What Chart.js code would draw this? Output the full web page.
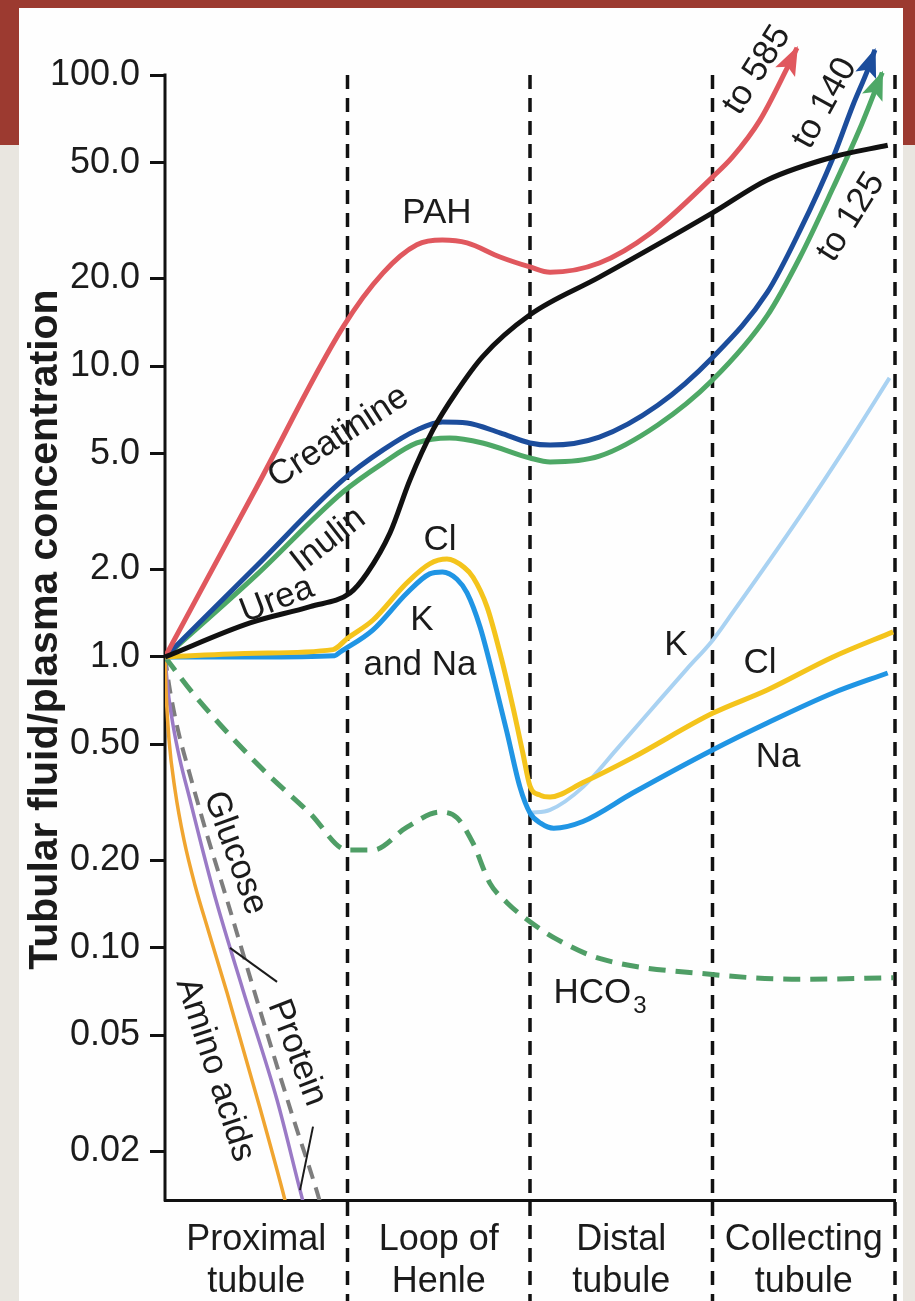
<!DOCTYPE html>
<html><head><meta charset="utf-8">
<script src="https://cdn.jsdelivr.net/npm/chart.js@4.4.1/dist/chart.umd.min.js"></script>
<style>
html,body{margin:0;padding:0;}
body{width:915px;height:1301px;position:relative;overflow:hidden;background:#e9e6e0;}
#red{position:absolute;left:0;top:0;width:915px;height:145px;background:#9c3a30;}
#panel{position:absolute;left:19px;top:8px;width:884px;height:1293px;background:#fefefe;}
#wrap{position:absolute;left:0;top:0;width:915px;height:1301px;}
</style></head><body>
<div id="red"></div><div id="panel"></div>
<div id="wrap"><canvas id="c" width="915" height="1301"></canvas></div>
<script>
// ---- categories / ticks ----
const segments = [["Proximal","tubule"],["Loop of","Henle"],["Distal","tubule"],["Collecting","tubule"]];
const segmentCenters = [0.5,1.5,2.5,3.5];
const segmentBounds = [1,2,3,4];
const yTickValues = [0.02,0.05,0.1,0.2,0.5,1,2,5,10,20,50,100];
const yTickLabels = ["0.02","0.05","0.10","0.20","0.50","1.0","2.0","5.0","10.0","20.0","50.0","100.0"];

// ---- series (x = position along nephron, 1 unit per segment; y = TF/P) ----
const pahX = [0,0.5,0.975,1.195,1.38,1.52,1.655,1.836,2.0,2.11,2.38,2.66,3.0,3.11,3.26,3.41,3.463];
const pahY = [1,3.81,13.6,20.9,26.1,27.1,26.5,23.7,21.9,21.0,22.6,28.6,44.6,52.3,70,106,124];

const creatX = [0,0.5,0.975,1.195,1.38,1.52,1.655,1.836,2.0,2.11,2.38,2.70,3.0,3.30,3.48,3.66,3.77,3.85,3.89];
const creatY = [1,2.05,4.06,5.15,6.03,6.42,6.37,5.89,5.44,5.35,5.70,7.33,10.7,17.9,29.3,51.9,78.9,104,122];

const inulinX = [0,0.5,0.975,1.195,1.38,1.56,1.74,2.0,2.11,2.38,2.70,3.0,3.30,3.48,3.66,3.81,3.93];
const inulinY = [1,1.91,3.69,4.64,5.44,5.66,5.44,4.83,4.68,4.9,6.27,8.95,14.9,23.7,40.9,66,102];

const ureaX = [0,0.466,0.795,1.014,1.107,1.233,1.342,1.468,1.60,1.742,2.0,2.38,3.0,3.30,3.66,3.96];
const ureaY = [1,1.31,1.49,1.66,1.94,2.67,4.06,6.03,8.2,10.8,15,20.2,33.6,43.6,52.3,57.4];

const clX = [0,0.5,0.92,1.0,1.14,1.326,1.45,1.545,1.64,1.688,1.764,1.836,1.907,1.96,2.0,2.055,2.11,2.29,2.56,3.0,3.30,3.66,3.99];
const clY = [1,1.03,1.06,1.16,1.34,1.80,2.09,2.17,2.03,1.88,1.49,1.03,0.67,0.47,0.36,0.335,0.33,0.37,0.45,0.64,0.77,1.0,1.22];

const naX = [0,0.5,0.93,0.96,1.14,1.326,1.45,1.52,1.60,1.655,1.726,1.80,1.874,1.945,2.0,2.06,2.13,2.29,2.56,3.0,3.30,3.66,3.96];
const naY = [1,1,1.01,1.04,1.24,1.66,1.93,1.96,1.85,1.66,1.27,0.85,0.55,0.357,0.291,0.268,0.258,0.272,0.34,0.479,0.593,0.752,0.881];

const kX = [2.0,2.11,2.29,2.477,2.658,2.86,3.0,3.11,3.48,3.75,3.97];
const kY = [0.291,0.298,0.357,0.483,0.652,0.91,1.14,1.42,3.05,5.5,9.1];

const hco3X = [0,0.153,0.52,0.795,1.0,1.14,1.326,1.507,1.60,1.688,1.78,1.874,2.0,2.148,2.38,3.0,3.48,3.99];
const hco3Y = [1,0.75,0.42,0.29,0.217,0.217,0.26,0.293,0.28,0.229,0.167,0.143,0.123,0.107,0.092,0.081,0.078,0.079];

const aminoX = [0,0.0055,0.022,0.055,0.104,0.164,0.236,0.34,0.52,0.647,0.685];
const aminoY = [1,0.770,0.519,0.349,0.235,0.1646,0.1154,0.0701,0.0282,0.0144,0.0116];

const glucoseX = [0,0.016,0.044,0.082,0.137,0.203,0.279,0.427,0.614,0.74,0.778];
const glucoseY = [1,0.770,0.584,0.443,0.323,0.221,0.146,0.0717,0.0300,0.0147,0.0119];

const proteinX = [0,0.027,0.071,0.137,0.230,0.340,0.52,0.70,0.833,0.877];
const proteinY = [1,0.770,0.561,0.393,0.245,0.146,0.0612,0.0263,0.0145,0.0116];

// ---- annotations (data coordinates) ----
const labels = [
  {t:"PAH", x:1.49, y:33.6, r:0},
  {t:"Creatinine", x:0.95, y:5.7, r:-33},
  {t:"Inulin", x:0.895, y:2.52, r:-38},
  {t:"Urea", x:0.614, y:1.57, r:-21},
  {t:"Cl", x:1.507, y:2.52, r:0},
  {t:"K", x:1.408, y:1.34, r:0},
  {t:"and Na", x:1.397, y:0.939, r:0},
  {t:"K", x:2.80, y:1.10, r:0},
  {t:"Cl", x:3.26, y:0.954, r:0},
  {t:"Na", x:3.36, y:0.453, r:0},
  {t:"Glucose", x:0.384, y:0.212, r:70},
  {t:"Amino acids", x:0.274, y:0.0381, r:72},
  {t:"Protein", x:0.723, y:0.0436, r:69},
  {t:"to 585", x:3.244, y:104, r:-58},
  {t:"to 140", x:3.616, y:80, r:-61},
  {t:"to 125", x:3.759, y:32.5, r:-58}
];
const hco3Label = {x:2.384, y:0.070};
const leaders = [[0.356,0.1,0.614,0.0764],[0.811,0.0243,0.74,0.0147]];

const zip = (xs, ys) => xs.map((v,i)=>({x:v, y:ys[i]}));
const FONT = '"Liberation Sans", Arial, Helvetica, sans-serif';
const INK = '#1b1b1b';

function ds(label, xs, ys, color, width, extra) {
  return Object.assign({label, data: zip(xs,ys), borderColor: color, backgroundColor: color,
    borderWidth: width, pointRadius: 0, fill: false, cubicInterpolationMode: 'monotone',
    borderCapStyle: 'butt', borderJoinStyle: 'round'}, extra || {});
}

const datasets = [
  ds('Urea', ureaX, ureaY, '#111111', 5),
  ds('PAH', pahX, pahY, '#e0585e', 5, {arrowHead: true}),
  ds('Creatinine', creatX, creatY, '#1c4d9c', 5, {arrowHead: true}),
  ds('Inulin', inulinX, inulinY, '#4ea866', 5, {arrowHead: true}),
  ds('Cl', clX, clY, '#f4c41c', 5),
  ds('Na', naX, naY, '#2095e4', 5),
  ds('K', kX, kY, '#a9d2f2', 4),
  ds('HCO3', hco3X, hco3Y, '#4f9e66', 5, {borderDash: [17,10]}),
  ds('Amino acids', aminoX, aminoY, '#f0a530', 3.5),
  ds('Glucose', glucoseX, glucoseY, '#9a7ac6', 3.5),
  ds('Protein', proteinX, proteinY, '#7d7d7d', 4, {borderDash: [14,9]})
];

const decor = {
  id: 'decor',
  beforeDatasetsDraw(chart) {
    const {ctx, scales:{x, y}, chartArea} = chart;
    const top = y.getPixelForValue(100);
    ctx.save();
    ctx.strokeStyle = '#111'; ctx.lineWidth = 3.5; ctx.setLineDash([14,9]);
    for (const b of segmentBounds) {
      const px = x.getPixelForValue(b);
      ctx.beginPath(); ctx.moveTo(px, top); ctx.lineTo(px, chart.height); ctx.stroke();
    }
    ctx.setLineDash([]);
    ctx.lineWidth = 3; ctx.lineCap = 'square';
    const x0 = x.getPixelForValue(0);
    ctx.beginPath(); ctx.moveTo(x0, top); ctx.lineTo(x0, chartArea.bottom); ctx.stroke();
    ctx.restore();
  },
  afterDatasetsDraw(chart) {
    const {ctx, scales:{x, y}} = chart;
    ctx.save();
    // arrow heads
    chart.data.datasets.forEach((d, i) => {
      if (!d.arrowHead) return;
      const pts = chart.getDatasetMeta(i).data;
      const P = pts[pts.length-1], Q = pts[pts.length-2];
      let dx = P.x - Q.x, dy = P.y - Q.y; const L = Math.hypot(dx,dy); dx/=L; dy/=L;
      const len = 27, hw = 11, nx = -dy, ny = dx;
      const bx = P.x - dx*len, by = P.y - dy*len;
      ctx.fillStyle = d.borderColor;
      ctx.beginPath();
      ctx.moveTo(P.x + dx*2, P.y + dy*2);
      ctx.lineTo(bx + nx*hw, by + ny*hw);
      ctx.lineTo(bx + dx*6, by + dy*6);
      ctx.lineTo(bx - nx*hw, by - ny*hw);
      ctx.closePath(); ctx.fill();
    });
    // labels
    ctx.fillStyle = INK; ctx.textAlign = 'center'; ctx.textBaseline = 'middle';
    ctx.font = '35px ' + FONT;
    for (const l of labels) {
      ctx.save();
      ctx.translate(x.getPixelForValue(l.x), y.getPixelForValue(l.y));
      ctx.rotate(l.r * Math.PI / 180);
      ctx.fillText(l.t, 0, 0);
      ctx.restore();
    }
    // HCO3 with subscript
    {
      const px = x.getPixelForValue(hco3Label.x), py = y.getPixelForValue(hco3Label.y);
      ctx.font = '35px ' + FONT;
      const w1 = ctx.measureText('HCO').width;
      ctx.font = '24px ' + FONT;
      const w2 = ctx.measureText('3').width;
      const sx = px - (w1 + w2 + 2) / 2;
      ctx.textAlign = 'left';
      ctx.font = '35px ' + FONT; ctx.fillText('HCO', sx, py);
      ctx.font = '24px ' + FONT; ctx.fillText('3', sx + w1 + 2, py + 13);
    }
    // leader lines
    ctx.strokeStyle = INK; ctx.lineWidth = 2;
    for (const [a,b,c,d] of leaders) {
      ctx.beginPath();
      ctx.moveTo(x.getPixelForValue(a), y.getPixelForValue(b));
      ctx.lineTo(x.getPixelForValue(c), y.getPixelForValue(d));
      ctx.stroke();
    }
    // y axis title
    ctx.font = 'bold 41px ' + FONT; ctx.textAlign = 'center'; ctx.textBaseline = 'middle';
    ctx.translate(46, (y.getPixelForValue(100) + chart.chartArea.bottom) / 2 - 8);
    ctx.rotate(-Math.PI/2);
    ctx.fillText('Tubular fluid/plasma concentration', 0, 0);
    ctx.restore();
  }
};

new Chart(document.getElementById('c'), {
  type: 'line',
  data: { datasets },
  options: {
    responsive: false, animation: false, devicePixelRatio: 1,
    layout: { padding: { left: 0, top: 40, right: 20, bottom: 0 } },
    plugins: { legend: { display: false }, tooltip: { enabled: false } },
    scales: {
      x: {
        type: 'linear', min: 0, max: 4,
        afterBuildTicks: s => { s.ticks = segmentCenters.map(v => ({value: v})); },
        afterFit: s => { s.height = 101; },
        grid: { display: false, drawTicks: false },
        border: { display: true, width: 3, color: '#111' },
        ticks: { autoSkip: false, maxRotation: 0, padding: 19, color: INK,
          font: { family: FONT, size: 36, lineHeight: 1.17 },
          callback: (v, i) => segments[i] }
      },
      y: {
        type: 'logarithmic', min: 0.0136, max: 132,
        afterBuildTicks: s => { s.ticks = yTickValues.map(v => ({value: v})); },
        afterFit: s => { s.width = 165; },
        grid: { drawOnChartArea: false, drawTicks: true, tickLength: 15, color: '#111', lineWidth: 3 },
        border: { display: false },
        ticks: { padding: 10, color: INK, font: { family: FONT, size: 36 },
          callback: (v, i) => yTickLabels[i] }
      }
    }
  },
  plugins: [decor]
});
</script></body></html>
